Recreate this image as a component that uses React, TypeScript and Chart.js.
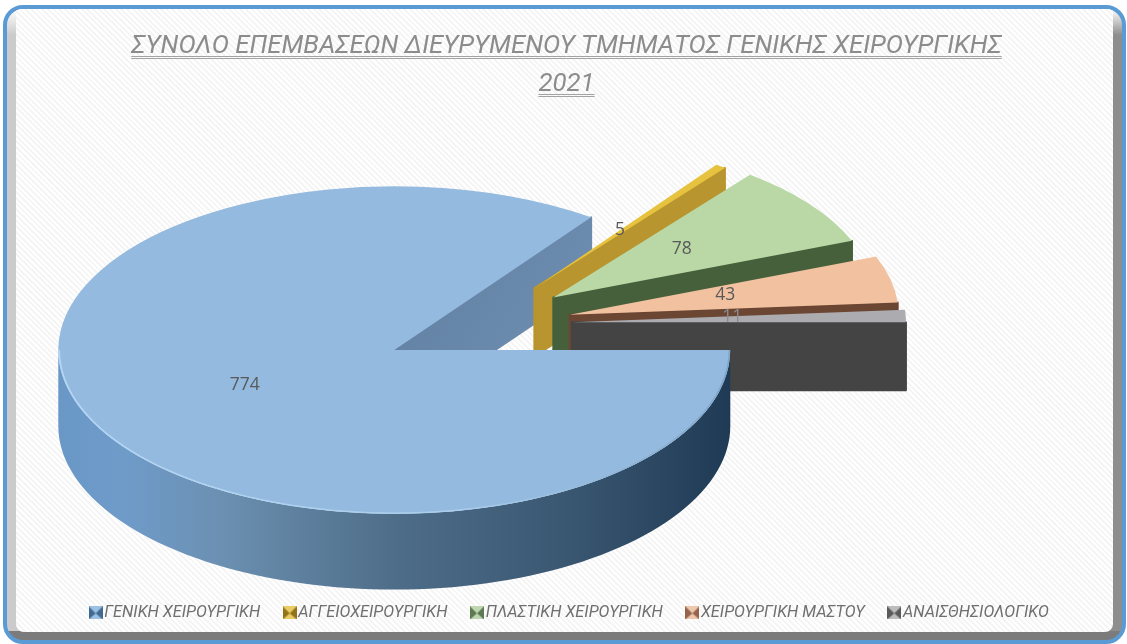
import React, { useEffect, useRef } from "react";
import { Chart, registerables } from "chart.js";

Chart.register(...registerables);

const categories = ["ΓΕΝΙΚΗ ΧΕΙΡΟΥΡΓΙΚΗ", "ΑΓΓΕΙΟΧΕΙΡΟΥΡΓΙΚΗ", "ΠΛΑΣΤΙΚΗ ΧΕΙΡΟΥΡΓΙΚΗ", "ΧΕΙΡΟΥΡΓΙΚΗ ΜΑΣΤΟΥ", "ΑΝΑΙΣΘΗΣΙΟΛΟΓΙΚΟ"];
const values = [774, 5, 78, 43, 11];
const faceColors = ["#95badf", "#e6c23e", "#b9d8a6", "#f2c2a0", "#ababb0"];
const wallColors = ["#6786a8", "#b8952f", "#46603c", "#6b4633", "#444444"];
const iconDark = ["#41688f", "#927318", "#5d7a52", "#96644a", "#5a5a5a"];
const iconLight = ["#9cc0e2", "#e9cc66", "#c0d6b2", "#eec8ae", "#bdbdbd"];
const labelColors = ["#595959", "#595959", "#595959", "#595959", "#8b8b90"];
const titleLines = ["ΣΥΝΟΛΟ ΕΠΕΜΒΑΣΕΩΝ ΔΙΕΥΡΥΜΕΝΟΥ ΤΜΗΜΑΤΟΣ ΓΕΝΙΚΗΣ ΧΕΙΡΟΥΡΓΙΚΗΣ", "2021"];

// fake perspective: how each slice is scaled about its own apex, and how far it sits up or down
const perspX = [1.006, 0.93, 0.96, 0.985, 1];
const perspY = [1, 0.93, 0.95, 0.98, 1];
const shiftY = [1, -3, -3, -3, -4];
const labelAt = [0.5, 0.46, 0.5, 0.485, 0.48];

const RADIUS = 334;
const EXPLODE = 94;
const SQUASH = 0.49;
const CENTER_X = 478;
const CENTER_Y = 328;
const CUT_DEPTH = 68;
const FRONT_DEPTH = 76;

const apex = (arc: any, i: number) => {
  const mid = (arc.startAngle + arc.endAngle) / 2;
  return {
    x: CENTER_X + Math.cos(mid) * EXPLODE,
    y: CENTER_Y + Math.sin(mid) * EXPLODE * SQUASH + shiftY[i],
  };
};

const project = (arc: any, i: number, angle: number, r: number) => {
  const a = apex(arc, i);
  return {
    x: a.x + Math.cos(angle) * r * perspX[i],
    y: a.y + Math.sin(angle) * r * SQUASH * perspY[i],
  };
};

const radialWall = (ctx: CanvasRenderingContext2D, arc: any, i: number, fill: any) => {
  const a = project(arc, i, 0, 0);
  const b = project(arc, i, arc.endAngle, arc.outerRadius);
  ctx.beginPath();
  ctx.moveTo(a.x, a.y);
  ctx.lineTo(b.x, b.y);
  ctx.lineTo(b.x, b.y + CUT_DEPTH);
  ctx.lineTo(a.x, a.y + CUT_DEPTH);
  ctx.closePath();
  ctx.fillStyle = fill;
  ctx.fill();
  ctx.lineJoin = "round";
  ctx.lineWidth = 2;
  ctx.strokeStyle = fill;
  ctx.stroke();
};

const pie3d = {
  id: "pie3d",
  afterLayout(chart: any) {
    // the legend row sits slightly right of the title's centre
    chart.legend.left += 11;
  },
  beforeDatasetDraw(chart: any, args: any) {
    const ctx: CanvasRenderingContext2D = chart.ctx;
    const arcs = args.meta.data;
    const big = arcs[0];

    // cut face of the largest slice, behind everything
    const cut = ctx.createLinearGradient(395, 220, 586, 340);
    cut.addColorStop(0, "#5f7ea0");
    cut.addColorStop(1, "#6f8fb2");
    radialWall(ctx, big, 0, cut);

    // cut faces of the exploded slices
    for (let i = 1; i < arcs.length; i++) radialWall(ctx, arcs[i], i, wallColors[i]);

    // curved front wall of the largest slice
    const left = project(big, 0, Math.PI, big.outerRadius).x;
    const right = project(big, 0, 0, big.outerRadius).x;
    const wall = ctx.createLinearGradient(left, 0, right, 0);
    wall.addColorStop(0, "#6a98c6");
    wall.addColorStop(0.1, "#6f9bc9");
    wall.addColorStop(0.25, "#6b8fb0");
    wall.addColorStop(0.5, "#4e6d88");
    wall.addColorStop(0.75, "#3b5873");
    wall.addColorStop(1, "#1f3a55");
    ctx.beginPath();
    const steps = 90;
    for (let s = 0; s <= steps; s++) {
      const p = project(big, 0, (Math.PI * s) / steps, big.outerRadius);
      if (s === 0) ctx.moveTo(p.x, p.y);
      else ctx.lineTo(p.x, p.y);
    }
    for (let s = steps; s >= 0; s--) {
      const p = project(big, 0, (Math.PI * s) / steps, big.outerRadius);
      ctx.lineTo(p.x, p.y + FRONT_DEPTH);
    }
    ctx.closePath();
    ctx.fillStyle = wall;
    ctx.fill();

    // top faces, drawn by the chart's own arc elements
    arcs.forEach((arc: any, i: number) => {
      const a = apex(arc, i);
      ctx.save();
      ctx.translate(a.x, a.y);
      ctx.scale(perspX[i], SQUASH * perspY[i]);
      ctx.translate(-arc.x, -arc.y);
      arc.draw(ctx);
      ctx.restore();
    });

    // light rim along the front edge
    ctx.beginPath();
    for (let s = 0; s <= steps; s++) {
      const p = project(big, 0, (Math.PI * s) / steps, big.outerRadius - 1);
      if (s === 0) ctx.moveTo(p.x, p.y);
      else ctx.lineTo(p.x, p.y);
    }
    const rim = ctx.createLinearGradient(left, 0, right, 0);
    rim.addColorStop(0, "#b5d7f5");
    rim.addColorStop(0.6, "#a9cdeb");
    rim.addColorStop(1, "#7ea5c9");
    ctx.strokeStyle = rim;
    ctx.lineWidth = 1.5;
    ctx.stroke();

    // value labels
    ctx.font = "17.5px 'Open Sans'";
    ctx.textAlign = "center";
    ctx.textBaseline = "middle";
    arcs.forEach((arc: any, i: number) => {
      const mid = (arc.startAngle + arc.endAngle) / 2;
      const p = project(arc, i, mid, arc.outerRadius * labelAt[i]);
      ctx.fillStyle = labelColors[i];
      ctx.fillText(String(values[i]), p.x, p.y - 2);
    });
    return false;
  },
  afterDraw(chart: any) {
    const ctx: CanvasRenderingContext2D = chart.ctx;
    const block = chart.titleBlock;
    const opts = block.options;
    ctx.save();
    ctx.font = `italic 400 ${opts.font.size}px ${opts.font.family}`;
    ctx.strokeStyle = "#a3a3a3";
    ctx.lineWidth = 1;
    const cx = (block.left + block.right) / 2;
    const lineH = opts.font.lineHeight * opts.font.size;
    titleLines.forEach((line, i) => {
      const w = ctx.measureText(line).width;
      const yc = block.top + opts.padding.top + lineH * (i + 0.5);
      [9, 11].forEach((dy) => {
        const y = Math.round(yc + dy) + 0.5;
        ctx.beginPath();
        ctx.moveTo(cx - w / 2, y);
        ctx.lineTo(cx + w / 2, y);
        ctx.stroke();
      });
    });
    ctx.restore();
  },
};

const makeIcon = (light: string, dark: string) => {
  const c = document.createElement("canvas");
  c.width = 14;
  c.height = 13;
  const g = c.getContext("2d")!;
  g.fillStyle = light;
  g.fillRect(0, 0, 14, 13);
  g.fillStyle = dark;
  g.beginPath();
  g.moveTo(0, 0);
  g.lineTo(7, 7);
  g.lineTo(0, 13);
  g.closePath();
  g.moveTo(14, 0);
  g.lineTo(7, 7);
  g.lineTo(14, 13);
  g.closePath();
  g.fill();
  return c;
};

export default function App() {
  const ref = useRef<HTMLCanvasElement>(null);
  useEffect(() => {
    const chart = new Chart(ref.current!, {
      type: "pie",
      data: {
        labels: categories,
        datasets: [
          {
            data: values,
            backgroundColor: faceColors,
            borderWidth: 0,
            radius: RADIUS,
          } as any,
        ],
      },
      options: {
        responsive: false,
        animation: false,
        events: [],
        rotation: 90,
        layout: { padding: { left: 6, bottom: 13 } },
        plugins: {
          tooltip: { enabled: false },
          title: {
            display: true,
            text: titleLines,
            color: "#8c8c8c",
            padding: { top: 28, bottom: 0 },
            font: { family: "Roboto", size: 25.8, style: "italic", weight: "400" as any, lineHeight: 1.47 },
          },
          legend: {
            position: "bottom",
            labels: {
              usePointStyle: true,
              pointStyleWidth: 1,
              padding: 29,
              color: "#6f6f6f",
              font: { family: "Roboto", size: 16.3, style: "italic" },
              generateLabels: () =>
                categories.map((text, i) => ({
                  text,
                  index: i,
                  fontColor: "#6f6f6f",
                  fillStyle: faceColors[i],
                  strokeStyle: faceColors[i],
                  lineWidth: 0,
                  hidden: false,
                  pointStyle: makeIcon(iconLight[i], iconDark[i]),
                })),
            },
          },
        },
      },
      plugins: [pie3d],
    } as any);
    return () => chart.destroy();
  }, []);

  const hatch = "repeating-linear-gradient(45deg, #ffffff 0 2px, #f5f5f5 2px 4px)";
  return (
    <div style={{ position: "absolute", left: 0, top: 0, width: 1127, height: 644, overflow: "hidden", background: "#fff" }}>
      <div
        style={{
          position: "absolute", left: 3, top: 5, width: 1123, height: 639, boxSizing: "border-box",
          border: "4.5px solid #5b9bd5", borderRadius: 20, overflow: "hidden",
          background:
            "linear-gradient(to top, #7b7b7b 0 9px, transparent 9px), linear-gradient(to bottom, #ffffff 0, rgba(255,255,255,0) 26px), linear-gradient(to right, #cbcbcb 0 50%, #8e8e8e 50% 100%)",
        }}
      >
        <div
          style={{
            position: "absolute", left: 9, top: 0, right: 9.5, bottom: 8.5,
            background: hatch, borderRadius: "0 0 8px 8px",
          }}
        />
      </div>
      <canvas ref={ref} width={1127} height={644} style={{ position: "absolute", left: 0, top: 0, display: "block" }} />
    </div>
  );
}
